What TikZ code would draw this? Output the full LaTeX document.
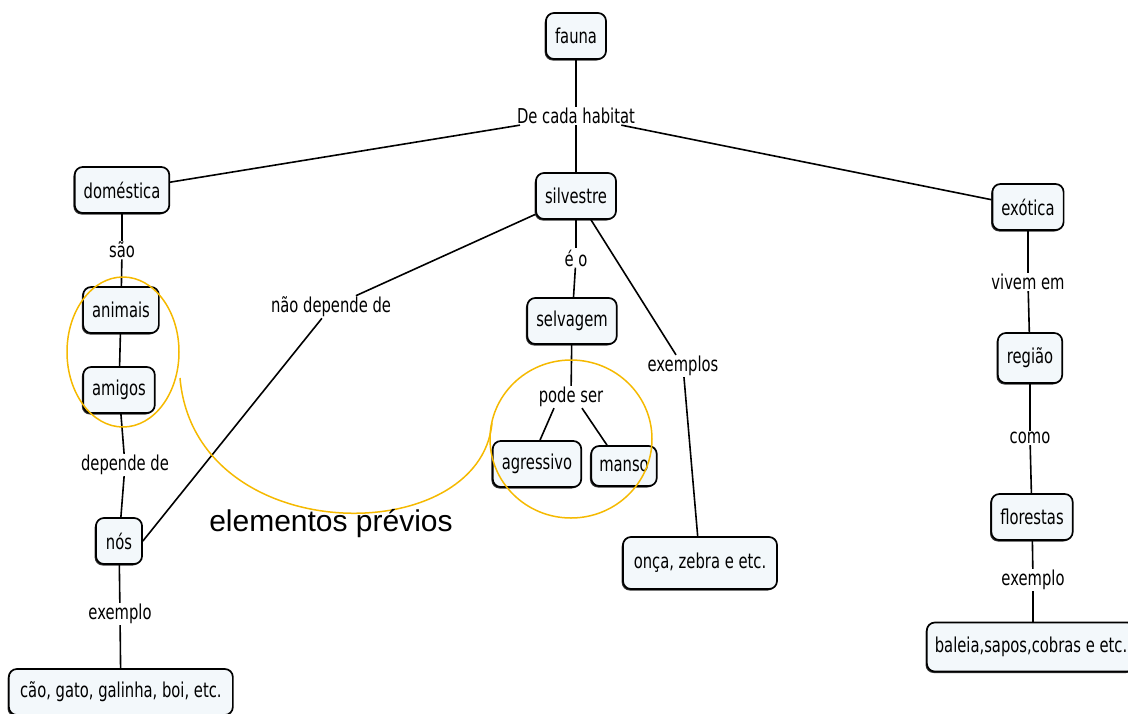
\documentclass[tikz,border=0pt]{standalone}
\usepackage{fontspec}
\setmainfont{DejaVu Sans}[FakeStretch=0.72]
\newfontfamily\notefont{Liberation Sans}
\usetikzlibrary{shadows}
\definecolor{boxfill}{RGB}{243,248,251}
\definecolor{hilite}{RGB}{245,185,0}

\begin{document}
\begin{tikzpicture}[x=1pt,y=-1pt,
  concept/.style={draw=black, line width=1.7pt, rounded corners=8pt, fill=boxfill,
    inner xsep=9pt, inner ysep=2pt, minimum height=46pt, font=\fontsize{20.5}{24}\selectfont,
    general shadow={shadow xshift=-1.3pt, shadow yshift=-1.5pt, fill=black!80}},
  linkword/.style={fill=white, inner xsep=1.5pt, inner ysep=1pt, font=\fontsize{20.5}{24}\selectfont},
  link/.style={line width=1.6pt},
  ring/.style={draw=hilite, line width=1.5pt},
]
\useasboundingbox (0,0) rectangle (1128,713);
\clip (0,0) rectangle (1128,713);

% concepts
\node[concept] (fauna) at (576,36) {fauna};
\node[concept] (dom) at (122,190) {doméstica};
\node[concept] (sil) at (576,196) {silvestre};
\node[concept] (exo) at (1028,207) {exótica};
\node[concept] (ani) at (121,310) {animais};
\node[concept] (ami) at (119,390) {amigos};
\node[concept, inner xsep=10pt] (nos) at (119,541) {nós};
\node[concept, anchor=west, minimum width=224pt] (cao) at (8,692) {cão, gato, galinha, boi, etc.};
\node[concept] (sel) at (572,321) {selvagem};
\node[concept] (agr) at (537,464) {agressivo};
\node[concept, minimum height=40pt, inner xsep=8pt] (man) at (624,466) {manso};
\node[concept, minimum height=52pt, minimum width=154pt] (onc) at (700,563) {onça, zebra e etc.};
\node[concept, minimum height=50pt] (reg) at (1030,358) {região};
\node[concept] (flo) at (1032,517) {florestas};
\node[concept, anchor=west, inner xsep=8pt, minimum height=49pt] (bal) at (926,647) {baleia,sapos,cobras e etc.};

% linking phrases
\node[linkword] (hab) at (576,116) {De cada habitat};
\node[linkword] (sao) at (122,250) {são};
\node[linkword] (dep) at (125,465) {depende de};
\node[linkword] (ex1) at (120,614) {exemplo};
\node[linkword] (nd) at (331,307) {não depende de};
\node[linkword] (eo) at (576,258) {é o};
\node[linkword] (ps) at (571,397) {pode ser};
\node[linkword] (exs) at (683,366) {exemplos};
\node[linkword] (viv) at (1028,282) {vivem em};
\node[linkword] (como) at (1030,438) {como};
\node[linkword] (ex2) at (1033,580) {exemplo};

% connections
\draw[link] (fauna) -- (hab);
\draw[link] (hab) -- (dom);
\draw[link] (hab) -- (sil);
\draw[link] (hab) -- (exo);
\draw[link] (dom) -- (sao);
\draw[link] (sao) -- (ani);
\draw[link] (ani) -- (ami);
\draw[link] (ami) -- (dep);
\draw[link] (dep) -- (nos);
\draw[link] (nos) -- (ex1);
\draw[link] (ex1) -- (cao);
\draw[link] (sil) -- (nd);
\draw[link] (nd) -- (nos.east);
\draw[link] (sil) -- (eo);
\draw[link] (eo) -- (sel);
\draw[link] (sel) -- (ps);
\draw[link] ([xshift=-17pt]ps.south) -- ([xshift=3pt]agr.north);
\draw[link] ([xshift=11pt]ps.south) -- ([xshift=-17pt]man.north);
\draw[link] (sil) -- (exs);
\draw[link] (exs) -- (onc);
\draw[link] (exo) -- (viv);
\draw[link] (viv) -- (reg);
\draw[link] (reg) -- (como);
\draw[link] (como) -- (flo);
\draw[link] (flo) -- (ex2);
\draw[link] (ex2) -- (bal.north -| ex2.south);

% highlighted groups
\draw[ring] (123,352) ellipse [x radius=56, y radius=75];
\draw[ring] (571,439) ellipse [x radius=81, y radius=79];
\draw[ring] (180,378) .. controls (195,550) and (480,550) .. (492,423);
\node[anchor=base, font=\notefont\fontsize{30}{36}\selectfont] (note) at (331,531) {elementos prévios};
\end{tikzpicture}
\end{document}
